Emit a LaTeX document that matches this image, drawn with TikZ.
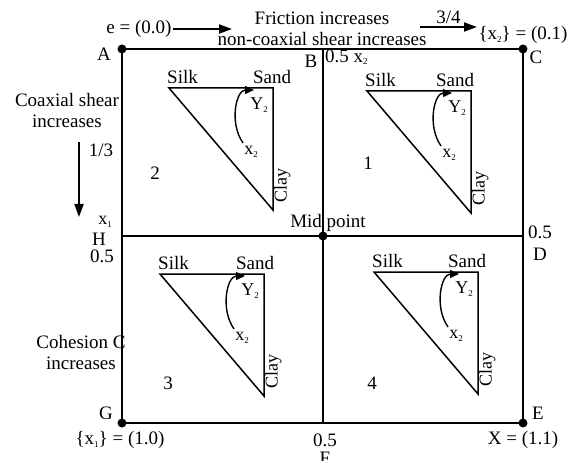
\documentclass[tikz,border=0pt]{standalone}
\usepackage{fontspec}
\setmainfont{Liberation Serif}
\usetikzlibrary{arrows.meta}
\newcommand{\lowsub}[1]{\raisebox{-2.5bp}{\fontsize{9bp}{9bp}\selectfont #1}}

\begin{document}
\begin{tikzpicture}[x=1bp, y=-1bp,
    every node/.style={font=\fontsize{19bp}{21bp}\selectfont, inner sep=1bp},
    frame/.style={line width=2bp},
    tri/.style={line width=1.5bp, line join=miter},
    dot/.style={circle, fill=black, inner sep=0pt, minimum size=9bp},
    arr/.style={-{Triangle[length=13bp, width=9bp]}, line width=2bp},
    carr/.style={-{Triangle[length=9bp, width=8bp]}, line width=1.4bp},
    sm/.style={font=\fontsize{18bp}{19bp}\selectfont},
    lbl/.style={align=center}
]
\useasboundingbox (0,0) rectangle (569,461);

% corners and middles of the square
\coordinate (A) at (122,49);
\coordinate (B) at (323,49);
\coordinate (C) at (523,49);
\coordinate (D) at (523,236);
\coordinate (E) at (523,423);
\coordinate (F) at (323,423);
\coordinate (G) at (122,423);
\coordinate (H) at (122,236);
\coordinate (M) at (323,236);

\draw[frame] (A) rectangle (E);
\draw[frame] (B) -- (F);
\draw[frame] (H) -- (D);
\foreach \p in {A,C,E,G,M}
  \node[dot] (dot\p) at (\p) {};

% the four soil triangles
\foreach \x/\y/\s in {471/91/-16, 273/88/-1, 264/274/-9, 478/272/-11} {
  \coordinate (silk) at (\x-104,\y);
  \coordinate (sand) at (\x,\y);
  \coordinate (clay) at (\x,\y+122);
  \draw[tri] (silk) -- (sand) -- (clay) -- cycle;
  \node[anchor=south west] (silkl) at ([xshift=-3bp,yshift=3bp]silk) {Silk};
  \node[anchor=south] (sandl) at ([xshift=\s bp,yshift=3bp]sand) {Sand};
  \node[sm, rotate=90, anchor=north west] (clayl) at ([yshift=6bp]clay) {Clay};
  \coordinate (xs) at (\x-30,\y+55);
  \coordinate (ye) at (\x-19,\y+2);
  \draw[carr] (xs) .. controls +(-14,-20) and +(-18,0) .. (ye);
  \node[sm] (yl) at (\x-14,\y+17) {Y\lowsub{2}};
  \node[sm] (xl) at (\x-22,\y+64) {x\lowsub{2}};
}
\node (n1) at (368,163) {1};
\node (n2) at (155,173) {2};
\node (n3) at (168,383) {3};
\node (n4) at (372,383) {4};

% point labels
\node (lA) at (104,54) {A};
\node (lB) at (311,61) {B};
\node[anchor=west] (lB2) at (324,57) {0.5 x\lowsub{2}};
\node (lC) at (536,57) {C};
\node (lD1) at (540,232) {0.5};
\node (lD) at (540,254) {D};
\node (lE) at (538,413) {E};
\node (lX) at (523,440) {X = (1.1)};
\node (lF1) at (325,440) {0.5};
\node (lF) at (325,458) {F};
\node (lG) at (106,413) {G};
\node (lx1) at (120,440) {\{x\lowsub{1}\} = (1.0)};
\node[sm] (lH0) at (105,222) {x\lowsub{1}};
\node (lH) at (99,239) {H};
\node (lH1) at (102,256) {0.5};
\node (lM) at (328,223) {Mid point};

% top and left texts
\node (e0) at (139,29) {e = (0.0)};
\coordinate (e1) at (232,29);
\draw[arr] (e0) -- (e1);
\node[lbl] (fric) at (322,29) {Friction increases\\non-coaxial shear increases};
\coordinate (q0) at (420,27);
\coordinate (q1) at (477,27);
\draw[arr] (q0) -- node[above=1bp] (q34) {3/4} (q1);
\node (x2) at (523,35) {\{x\lowsub{2}\} = (0.1)};
\node[lbl] (coax) at (67,111) {Coaxial shear\\increases};
\coordinate (c0) at (79,142);
\coordinate (c1) at (79,217);
\draw[arr] (c0) -- (c1);
\node (c13) at (101,150) {1/3};
\node[lbl] (coh) at (81,352) {Cohesion C\\increases};
\end{tikzpicture}
\end{document}
